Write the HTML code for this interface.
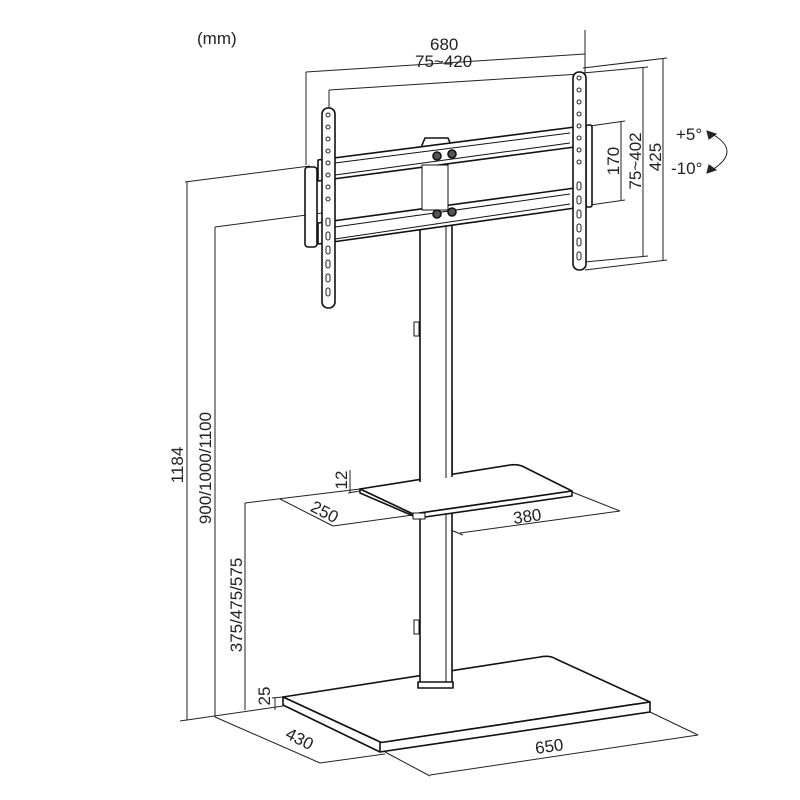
<!DOCTYPE html>
<html><head><meta charset="utf-8"><style>
html,body{margin:0;padding:0;background:#fff;}
svg{display:block}
text{font-family:"Liberation Sans",sans-serif;font-size:17px;fill:#222}
</style></head><body>
<svg width="800" height="800" viewBox="0 0 800 800" xmlns="http://www.w3.org/2000/svg">
<g stroke="#222" stroke-width="1" fill="none">
<line x1="306" y1="72" x2="306" y2="165"/>
<line x1="306" y1="72" x2="585" y2="54"/>
<line x1="585" y1="30" x2="585" y2="75"/>
<line x1="329" y1="90" x2="329" y2="108"/>
<line x1="329" y1="90" x2="580" y2="74"/>
<line x1="590" y1="126" x2="625" y2="121"/><line x1="590" y1="205" x2="625" y2="200"/><line x1="621" y1="121" x2="621" y2="200"/>
<line x1="583" y1="73" x2="648" y2="67"/><line x1="585" y1="262" x2="648" y2="256"/><line x1="643" y1="67" x2="643" y2="256"/>
<line x1="583" y1="68" x2="667" y2="58"/><line x1="585" y1="270" x2="667" y2="260"/><line x1="663" y1="58" x2="663" y2="260"/>
<path d="M712 134 Q742 151 712 170"/>
<path d="M707 131 L716 134 L709 139Z M707 173 L716 170 L709 165Z" fill="#222"/>
<line x1="185" y1="182" x2="310" y2="166"/><line x1="187" y1="182" x2="187" y2="720"/>
<line x1="215" y1="227" x2="322" y2="213"/><line x1="215" y1="227" x2="215" y2="717"/>
<line x1="180" y1="721" x2="283" y2="706"/>
<line x1="245" y1="503" x2="360" y2="489"/><line x1="245" y1="503" x2="245" y2="710"/>
<line x1="272" y1="698" x2="283" y2="697"/><line x1="275" y1="698" x2="275" y2="710"/>
<line x1="350" y1="470" x2="350" y2="493"/><line x1="348" y1="493" x2="360" y2="491"/>
<line x1="280" y1="499" x2="333" y2="526"/><line x1="333" y1="526" x2="413" y2="515"/>
<line x1="413" y1="515" x2="463" y2="535"/><line x1="460" y1="533" x2="620" y2="511"/><line x1="572" y1="492" x2="620" y2="511"/>
<line x1="215" y1="717" x2="320" y2="763"/><line x1="320" y1="763" x2="385" y2="754"/>
<line x1="385" y1="752" x2="430" y2="776"/><line x1="430" y1="775" x2="698" y2="735"/><line x1="650" y1="712" x2="698" y2="735"/>
</g>
<g stroke="#111" stroke-width="1.6" fill="#fff" stroke-linejoin="round">
<!-- base top face -->
<path d="M283 697 L540 657 Q550 655 556 659 L650 702 L385 742 Q381 743 378 741 Z"/>
<!-- base side -->
<path d="M283 697 L283 705 L380 752 L650 712 L650 702 L385 742 Q381 743 378 741 Z"/>
<line x1="380" y1="742" x2="380" y2="752"/>
<!-- post -->
<rect x="420" y="225" width="32" height="460"/>
<line x1="446" y1="225" x2="446" y2="685" stroke-width="1"/>
<rect x="418" y="682" width="35" height="6"/>
<rect x="414" y="322" width="5" height="14" stroke-width="1"/>
<rect x="414" y="620" width="5" height="14" stroke-width="1"/>
<!-- shelf -->
<path d="M360 489 L510 465 Q517 464 522 466 L572 491 L413 514 Z"/>
<path d="M360 489 L360 493 L418 518 L572 496 L572 491 L413 514 Z"/>
<rect x="413" y="513" width="12" height="6" stroke-width="1"/>
<rect x="420" y="400" width="32" height="80" stroke="none"/>
<line x1="420" y1="400" x2="420" y2="482"/><line x1="452" y1="400" x2="452" y2="477"/><line x1="446" y1="400" x2="446" y2="478" stroke-width="1"/>
<!-- top block -->
<path d="M420 150 L425 138 L448 138 L453 150 Z"/>
<path d="M318 160 L575 127 L575 147 L318 181 Z"/>
<line x1="335" y1="163" x2="570" y2="133" stroke-width="1"/>
<line x1="335" y1="175" x2="570" y2="143" stroke-width="1"/>
<path d="M318 223 L575 188 L575 208 L318 244 Z"/>
<line x1="335" y1="227" x2="570" y2="194" stroke-width="1"/>
<line x1="335" y1="239" x2="570" y2="204" stroke-width="1"/>
<rect x="422" y="165" width="26" height="45" stroke-width="1"/>
<rect x="305" y="167" width="12" height="80" rx="3"/>
<rect x="586" y="125" width="6" height="82" rx="2"/>
<g fill="#555"><circle cx="437" cy="156" r="4"/><circle cx="452" cy="154" r="4"/><circle cx="437" cy="214" r="4"/><circle cx="452" cy="212" r="4"/></g>
<rect x="322" y="108" width="13" height="200" rx="6"/>
<rect x="573" y="72" width="13" height="198" rx="6"/>
</g>
<g fill="#fff" stroke="#222" stroke-width="1">
<circle cx="328" cy="115" r="2"/><circle cx="328" cy="127" r="2"/><circle cx="328" cy="139" r="2"/><circle cx="328" cy="151" r="2"/><circle cx="328" cy="163" r="2"/><circle cx="328" cy="175" r="2"/><circle cx="328" cy="187" r="2"/><circle cx="328" cy="199" r="2"/>
<rect x="326" y="218" width="4" height="8" rx="2"/><rect x="326" y="232" width="4" height="8" rx="2"/><rect x="326" y="246" width="4" height="8" rx="2"/><rect x="326" y="260" width="4" height="8" rx="2"/><rect x="326" y="274" width="4" height="8" rx="2"/><rect x="326" y="288" width="4" height="8" rx="2"/>
<circle cx="579" cy="78" r="2"/><circle cx="579" cy="90" r="2"/><circle cx="579" cy="102" r="2"/><circle cx="579" cy="114" r="2"/><circle cx="579" cy="126" r="2"/><circle cx="579" cy="138" r="2"/><circle cx="579" cy="150" r="2"/><circle cx="579" cy="162" r="2"/>
<rect x="577" y="182" width="4" height="8" rx="2"/><rect x="577" y="196" width="4" height="8" rx="2"/><rect x="577" y="210" width="4" height="8" rx="2"/><rect x="577" y="224" width="4" height="8" rx="2"/><rect x="577" y="238" width="4" height="8" rx="2"/><rect x="577" y="252" width="4" height="8" rx="2"/>
</g>
<text x="197" y="44" font-size="20">(mm)</text>
<text x="430" y="50">680</text>
<text x="415" y="67">75~420</text>
<text x="676" y="140">+5°</text>
<text x="671" y="174">-10°</text>
<text transform="translate(619,161) rotate(-90)" text-anchor="middle">170</text>
<text transform="translate(641,161) rotate(-90)" text-anchor="middle">75~402</text>
<text transform="translate(661,157) rotate(-90)" text-anchor="middle">425</text>
<text transform="translate(183,465) rotate(-90)" text-anchor="middle">1184</text>
<text transform="translate(211,468) rotate(-90)" text-anchor="middle">900/1000/1100</text>
<text transform="translate(242,605) rotate(-90)" text-anchor="middle">375/475/575</text>
<text transform="translate(270,696) rotate(-90)" text-anchor="middle">25</text>
<text transform="translate(347,480) rotate(-90)" text-anchor="middle">12</text>
<text transform="translate(322,517) rotate(27)" text-anchor="middle">250</text>
<text transform="translate(528,522) rotate(-8)" text-anchor="middle">380</text>
<text transform="translate(297,744) rotate(27)" text-anchor="middle">430</text>
<text transform="translate(550,752) rotate(-8)" text-anchor="middle">650</text>
</svg>
</body></html>
